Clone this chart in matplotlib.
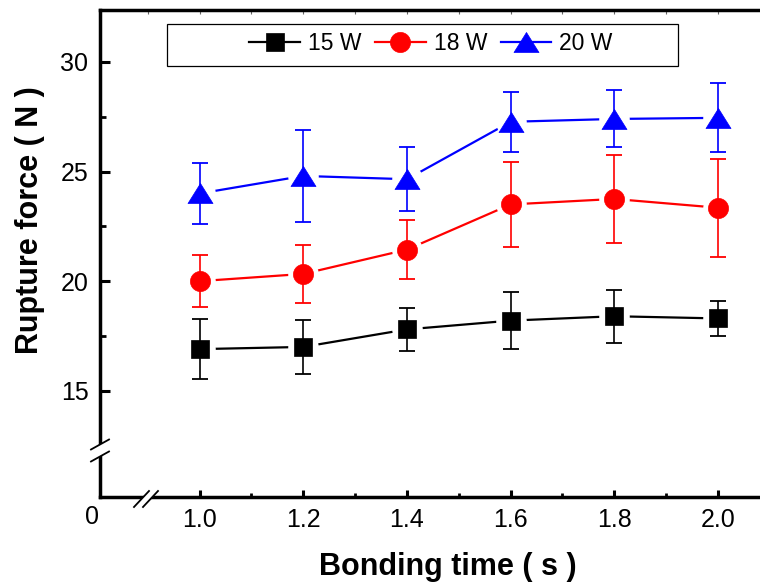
import matplotlib
matplotlib.use("Agg")
import matplotlib.pyplot as plt
from matplotlib.lines import Line2D
from matplotlib.patches import Polygon, Rectangle
from matplotlib.path import Path
import numpy as np

plt.rcParams['font.family'] = ['Liberation Sans', 'DejaVu Sans']

# data
time = [1.0, 1.2, 1.4, 1.6, 1.8, 2.0]
f15 = [16.9, 17.0, 17.8, 18.2, 18.4, 18.3]
e15 = [1.38, 1.22, 0.97, 1.31, 1.21, 0.8]
f18 = [20.0, 20.33, 21.44, 23.5, 23.75, 23.35]
e18 = [1.2, 1.32, 1.35, 1.93, 1.99, 2.24]
f20 = [24.0, 24.8, 24.65, 27.27, 27.4, 27.45]
e20 = [1.37, 2.1, 1.45, 1.38, 1.3, 1.58]
labels = ["15 W", "18 W", "20 W"]
xticks = [1.0, 1.2, 1.4, 1.6, 1.8, 2.0]
yticks = [15, 20, 25, 30]

W, H = 760, 584
fig = plt.figure(figsize=(W / 100, H / 100), dpi=100)

def fx(px):
    return px / W

def fy(py):
    return 1 - py / H

ax = fig.add_axes([fx(99.5), fy(497.3), 1 - fx(99.5), fy(10) - fy(497.3)])

tri = Path([(0, 0.8), (-1, -0.8), (1, -0.8), (0, 0.8)],
           [Path.MOVETO, Path.LINETO, Path.LINETO, Path.CLOSEPOLY])

series = [
    (f15, e15, 'black', 's', 12.5),
    (f18, e18, 'red', 'o', 14.5),
    (f20, e20, 'blue', tri, 18),
]

handles = []
for (y, e, c, m, ms), lab in zip(series, labels):
    ax.plot(time, y, color=c, lw=1.6, zorder=2)
    # white halo gives the gap between line and marker
    ax.plot(time, y, ls='none', marker='o', ms=22, mfc='white', mec='none', zorder=3)
    ax.errorbar(time, y, yerr=e, fmt='none', ecolor=c, elinewidth=1.2,
                capsize=5.6, capthick=1.3, zorder=4)
    ax.plot(time, y, ls='none', marker=m, ms=ms, mfc=c, mec=c, mew=0.5, zorder=5)
    handles.append(Line2D([], [], color=c, lw=1.6, marker=m, ms=ms, mfc=c, mec=c, mew=0.5))

ax.set_xlim(0.807, 2.081)
ax.set_ylim(10.14, 32.37)
ax.set_xticks(xticks)
ax.set_xticklabels([f"{v:.1f}" for v in xticks])
ax.set_xticks([1.1, 1.3, 1.5, 1.7, 1.9], minor=True)
ax.set_yticks(yticks)
ax.set_yticks([17.5, 22.5, 27.5], minor=True)

ax.spines['right'].set_visible(False)
for s in ['left', 'bottom', 'top']:
    ax.spines[s].set_linewidth(2.5)
ax.tick_params(axis='y', which='major', direction='in', length=7, width=2.2,
               labelsize=18, pad=8)
ax.tick_params(axis='y', which='minor', direction='in', length=4, width=2)
ax.tick_params(axis='x', which='major', direction='in', length=5, width=2.2,
               labelsize=18, pad=8)
ax.tick_params(axis='x', which='minor', direction='in', length=3, width=2)

sec = ax.secondary_xaxis('top')
sec.set_xticks(np.round(np.arange(0.9, 2.05, 0.1), 1))
sec.set_xticklabels([])
sec.tick_params(direction='in', length=3, width=0.8, color='0.4')
sec.spines['top'].set_visible(False)

fig.text(fx(92), fy(517), "0", fontsize=18, ha='center', va='center')

fig.text(fx(448), fy(567), "Bonding time ( s )", fontsize=22, fontweight='bold',
         ha='center', va='center')
fig.text(fx(30), fy(220), "Rupture force ( N )", fontsize=22, fontweight='bold',
         ha='center', va='center', rotation=90)

# legend box
fig.add_artist(Rectangle((fx(167), fy(66)), fx(678) - fx(167), fy(24) - fy(66),
                         transform=fig.transFigure, fill=False, ec='black', lw=0.9))
fig.legend(handles=handles, labels=labels, ncol=3, frameon=False, fontsize=16.5,
           loc='center', bbox_to_anchor=(fx(431), fy(44)), handlelength=2.2,
           handletextpad=0.35, columnspacing=0.6, borderpad=0, borderaxespad=0)

# axis break marks
def brk(pts_gap, l1, l2):
    fig.add_artist(Polygon([(fx(x), fy(y)) for x, y in pts_gap], closed=True,
                           transform=fig.transFigure, fc='white', ec='none', zorder=10))
    for (x0, y0), (x1, y1) in (l1, l2):
        fig.add_artist(Line2D([fx(x0), fx(x1)], [fy(y0), fy(y1)],
                              transform=fig.transFigure, color='black', lw=1.3, zorder=11))

brk([(93, 448), (108, 440), (108, 452), (93, 460)],
    ((91, 449.5), (109, 439.5)), ((91, 461.5), (109, 451.5)))
brk([(135, 506), (148.3, 491.7), (158.3, 491.7), (144, 506)],
    ((134, 507), (149, 491)), ((143, 507), (158, 491)))

fig.savefig("out.png", dpi=100)
